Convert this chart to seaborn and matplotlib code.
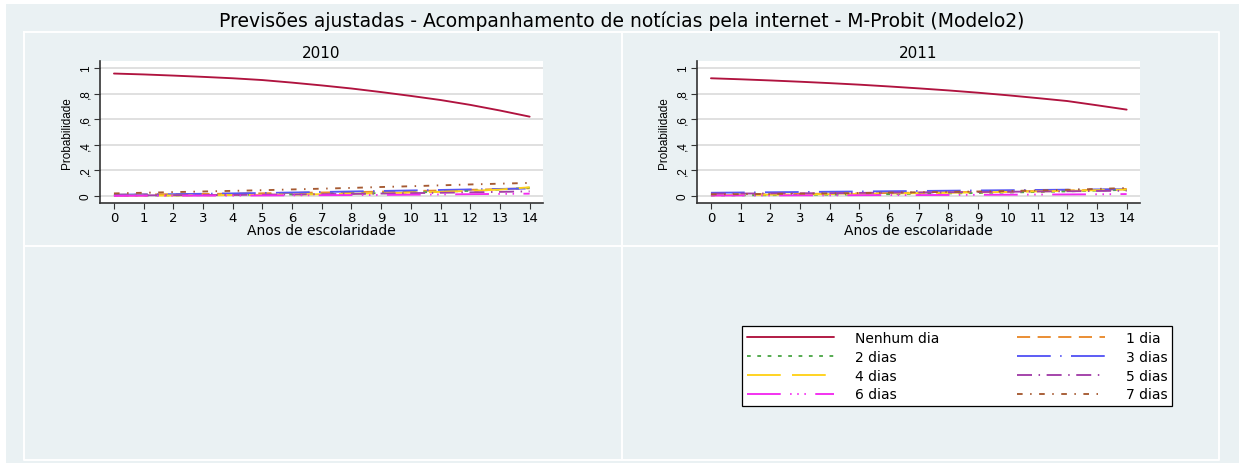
import numpy as np
import pandas as pd
import matplotlib
matplotlib.use("Agg")
import matplotlib.pyplot as plt
import seaborn as sns
from matplotlib.lines import Line2D
from matplotlib.patches import Rectangle

# data
anos = list(range(15))
categorias = ['Nenhum dia', '1 dia', '2 dias', '3 dias', '4 dias', '5 dias', '6 dias', '7 dias']

prob_2010 = {
    'Nenhum dia': [0.957, 0.950, 0.941, 0.931, 0.920, 0.906, 0.886, 0.864, 0.840, 0.812, 0.782, 0.750, 0.712, 0.668, 0.620],
    '1 dia':      [0.010, 0.012, 0.014, 0.016, 0.018, 0.021, 0.024, 0.027, 0.030, 0.034, 0.038, 0.043, 0.048, 0.054, 0.060],
    '2 dias':     [0.003, 0.004, 0.005, 0.006, 0.008, 0.010, 0.012, 0.015, 0.018, 0.022, 0.027, 0.033, 0.040, 0.050, 0.065],
    '3 dias':     [0.010, 0.012, 0.014, 0.017, 0.020, 0.023, 0.027, 0.031, 0.035, 0.039, 0.043, 0.047, 0.051, 0.055, 0.058],
    '4 dias':     [0.002, 0.003, 0.004, 0.005, 0.007, 0.009, 0.011, 0.014, 0.017, 0.021, 0.026, 0.032, 0.040, 0.050, 0.068],
    '5 dias':     [0.004, 0.005, 0.006, 0.007, 0.008, 0.010, 0.012, 0.014, 0.016, 0.019, 0.022, 0.025, 0.028, 0.032, 0.036],
    '6 dias':     [0.001, 0.002, 0.002, 0.003, 0.003, 0.004, 0.005, 0.006, 0.007, 0.008, 0.010, 0.012, 0.014, 0.016, 0.018],
    '7 dias':     [0.020, 0.025, 0.030, 0.035, 0.040, 0.045, 0.051, 0.057, 0.063, 0.070, 0.076, 0.083, 0.090, 0.096, 0.102],
}
prob_2011 = {
    'Nenhum dia': [0.920, 0.912, 0.903, 0.893, 0.882, 0.870, 0.856, 0.841, 0.825, 0.807, 0.787, 0.765, 0.742, 0.709, 0.675],
    '1 dia':      [0.010, 0.012, 0.014, 0.016, 0.018, 0.020, 0.023, 0.026, 0.029, 0.032, 0.035, 0.039, 0.043, 0.048, 0.055],
    '2 dias':     [0.004, 0.005, 0.006, 0.008, 0.010, 0.012, 0.014, 0.017, 0.020, 0.023, 0.027, 0.031, 0.036, 0.042, 0.048],
    '3 dias':     [0.025, 0.027, 0.029, 0.031, 0.033, 0.035, 0.037, 0.039, 0.041, 0.043, 0.045, 0.047, 0.049, 0.051, 0.053],
    '4 dias':     [0.006, 0.008, 0.010, 0.012, 0.014, 0.016, 0.019, 0.022, 0.025, 0.028, 0.032, 0.036, 0.040, 0.045, 0.050],
    '5 dias':     [0.018, 0.019, 0.020, 0.021, 0.022, 0.024, 0.026, 0.027, 0.029, 0.031, 0.033, 0.035, 0.037, 0.039, 0.041],
    '6 dias':     [0.003, 0.004, 0.004, 0.005, 0.005, 0.006, 0.007, 0.007, 0.008, 0.009, 0.010, 0.011, 0.012, 0.013, 0.015],
    '7 dias':     [0.012, 0.014, 0.016, 0.018, 0.020, 0.023, 0.026, 0.029, 0.032, 0.035, 0.039, 0.043, 0.048, 0.055, 0.062],
}
yticks = [0, 0.2, 0.4, 0.6, 0.8, 1]
ytick_labels = ['0', ',2', ',4', ',6', ',8', '1']

cores = {
    'Nenhum dia': '#B0133F', '1 dia': '#E98A2C', '2 dias': '#4FA84A', '3 dias': '#5656F5',
    '4 dias': '#FFD21A', '5 dias': '#A23FA8', '6 dias': '#F32AF0', '7 dias': '#A65A32',
}
tracos = {
    'Nenhum dia': '', '1 dia': (7, 4), '2 dias': (2, 3.5), '3 dias': (18, 5, 0.8, 5),
    '4 dias': (18, 6), '5 dias': (8, 3.5, 0.8, 3.5), '6 dias': (18, 5, 0.8, 3, 0.8, 3, 0.8, 5),
    '7 dias': (3, 4, 0.8, 4),
}

rows = []
for ano, dados in [('2010', prob_2010), ('2011', prob_2011)]:
    for cat in categorias:
        for x, p in zip(anos, dados[cat]):
            rows.append({'ano': ano, 'anos': x, 'categoria': cat, 'prob': p})
df = pd.DataFrame(rows)

sns.set_style('white')
plt.rcParams['font.family'] = ['DejaVu Sans']
plt.rcParams['text.color'] = 'black'
plt.rcParams['axes.labelcolor'] = 'black'
plt.rcParams['xtick.color'] = 'black'
plt.rcParams['ytick.color'] = 'black'
wide = ['DejaVu Sans']
narrow = ['Liberation Sans', 'DejaVu Sans']

W, H = 1239, 464
fig = plt.figure(figsize=(W / 100, H / 100), dpi=100, facecolor='white')
bg = '#EAF1F3'
fig.patches.append(Rectangle((6 / W, 0), 1 - 6 / W, 1 - 5 / H, transform=fig.transFigure,
                             facecolor=bg, edgecolor='none', zorder=-10))
# white cell borders of the graph region
for xs, ys in [([24, 1219, 1219, 24, 24], [33, 33, 461, 461, 33]),
               ([622, 622], [33, 461]), ([24, 1219], [247, 247])]:
    fig.add_artist(Line2D([x / W for x in xs], [1 - y / H for y in ys],
                          transform=fig.transFigure, color='white', lw=1.4, zorder=-5))

fig.text(622 / W, 1 - 21 / H, 'Previsões ajustadas - Acompanhamento de notícias pela internet - M-Probit (Modelo2)',
         ha='center', va='center', fontsize=13.5, family=wide)

axes = [fig.add_axes([100 / W, 1 - 204 / H, 443 / W, 142 / H]),
        fig.add_axes([697 / W, 1 - 204 / H, 443 / W, 142 / H])]

for ax, ano in zip(axes, ['2010', '2011']):
    sub = df[df['ano'] == ano]
    sns.lineplot(data=sub, x='anos', y='prob', hue='categoria', style='categoria',
                 hue_order=categorias, style_order=categorias, palette=cores,
                 dashes=tracos, linewidth=1.35, ax=ax, legend=(ano == '2010'))
    ax.set_facecolor('white')
    ax.set_xlim(-0.47, 14.45)
    ax.set_ylim(-0.055, 1.055)
    ax.set_xticks(anos)
    ax.set_xticklabels([str(a) for a in anos], fontsize=9.5, family=wide)
    ax.set_yticks(yticks)
    ax.set_yticklabels(ytick_labels, rotation=90, va='center', fontsize=8.5, family=narrow)
    ax.grid(axis='y', color='#DADADA', lw=1.2)
    ax.set_axisbelow(True)
    for s in ['top', 'right']:
        ax.spines[s].set_visible(False)
    for s in ['left', 'bottom']:
        ax.spines[s].set_color('#333333')
        ax.spines[s].set_linewidth(1.2)
    ax.tick_params(axis='both', direction='out', length=4, width=0.8, color='#333333',
                   pad=2, left=True, bottom=True)
    ax.set_xlabel('Anos de escolaridade', fontsize=10, labelpad=-1, family=wide)
    ax.set_ylabel('Probabilidade', fontsize=8.5, labelpad=5, family=narrow)
    ax.set_title(ano, fontsize=11, pad=3, family=wide)

handles, labels = axes[0].get_legend_handles_labels()
axes[0].get_legend().remove()
lookup = dict(zip(labels, handles))
ordem = ['Nenhum dia', '2 dias', '4 dias', '6 dias', '1 dia', '3 dias', '5 dias', '7 dias']
leg = fig.legend([lookup[k] for k in ordem], ordem, ncol=2, loc='upper left',
                 bbox_to_anchor=(742 / W, 1 - 327 / H), borderaxespad=0,
                 prop={'family': wide, 'size': 10},
                 handlelength=6.3, handletextpad=1.5, columnspacing=5.6, labelspacing=0.35,
                 borderpad=0.35, frameon=True, fancybox=False, edgecolor='black',
                 facecolor='white', framealpha=1)
leg.get_frame().set_linewidth(0.9)

fig.savefig('out.png', dpi=100, facecolor=fig.get_facecolor())
